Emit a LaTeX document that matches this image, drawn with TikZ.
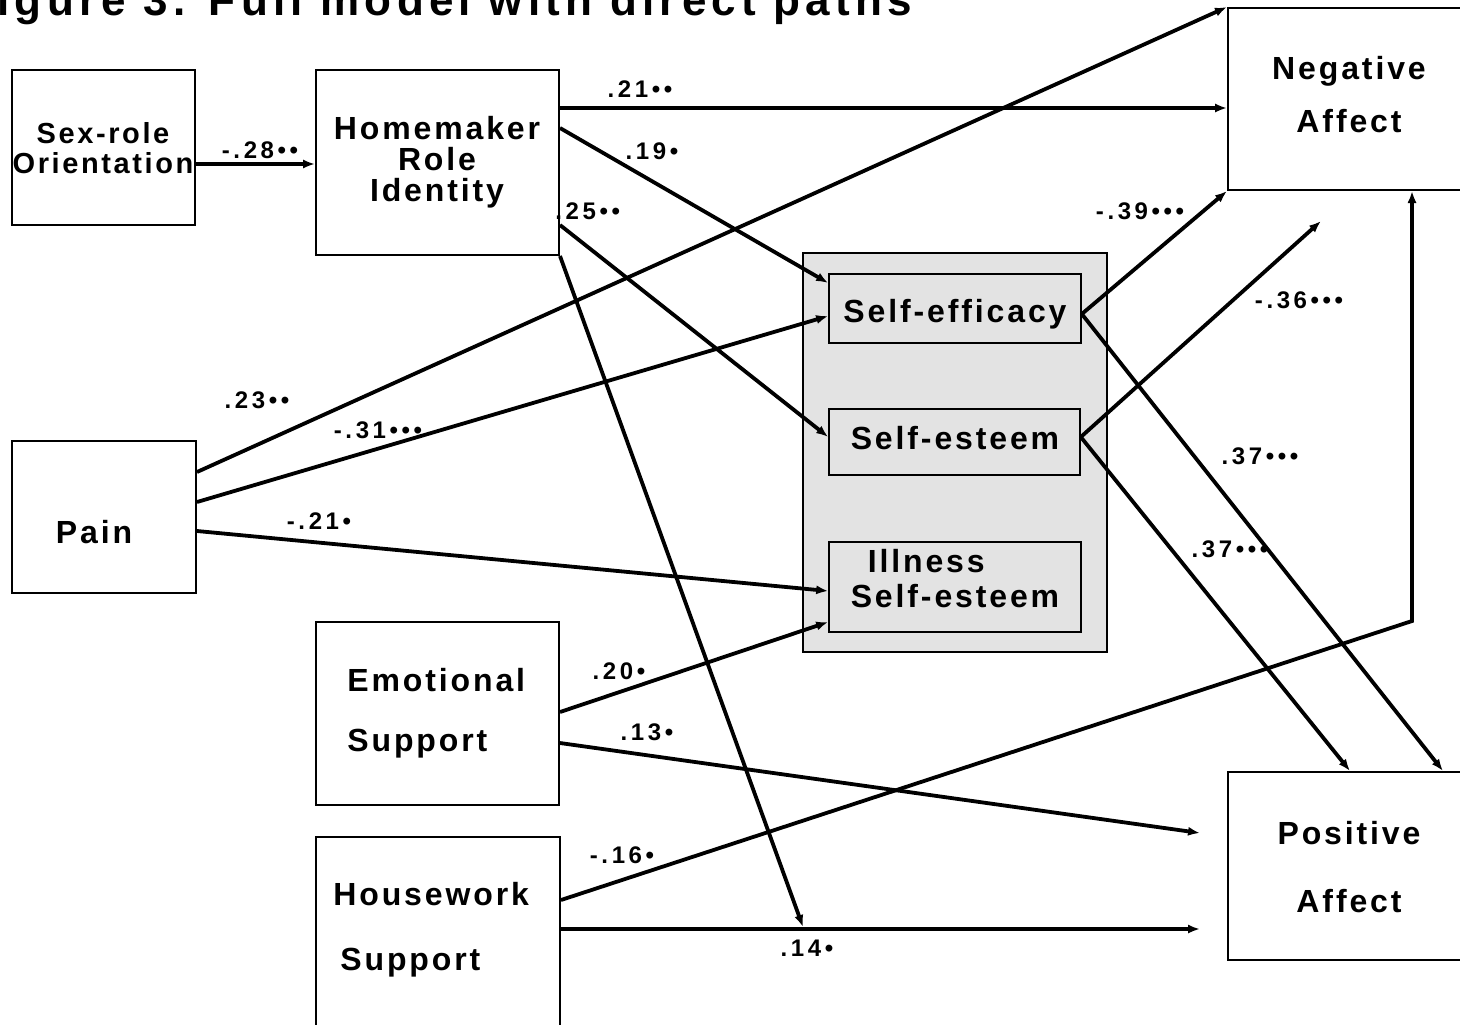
\documentclass[tikz,border=0pt]{standalone}
\usepackage{fontspec}
\setmainfont{Liberation Sans}
\newfontfamily\boxfam{Liberation Sans}[LetterSpace=9]
\newfontfamily\labfam{Liberation Sans}[LetterSpace=15]
\newfontfamily\titfam{Liberation Sans}[LetterSpace=12]
\usetikzlibrary{arrows.meta,fit,calc}
\newcommand\BoxTxt{\boxfam\bfseries\fontsize{16}{15.5}\selectfont}
\newcommand\LabTxt{\labfam\bfseries\fontsize{12}{13}\selectfont}
\begin{document}
\begin{tikzpicture}[x=0.5pt,y=-0.5pt,
  box/.style={draw, line width=1pt, inner sep=0pt},
  inbox/.style={draw, line width=0.8pt, inner sep=0pt, fill=black!11},
  grpbox/.style={draw, line width=0.8pt, inner sep=0pt, fill=black!11},
  txt/.style={font=\BoxTxt, inner sep=0pt, align=center},
  lab/.style={font=\LabTxt, inner sep=0pt},
  arr/.style={line width=1.9pt, -{Latex[length=6pt,width=4.6pt]}}]
\useasboundingbox (0,0) rectangle (1460,1024);
\clip (0,0) rectangle (1460,1024);
\fill[white] (0,0) rectangle (1460,1024);
% title (cut at top)
\node[font=\titfam\bfseries\fontsize{22}{24}\selectfont, anchor=base west, inner sep=0pt] (title) at (-3,15) {igure 3. Full model with direct paths};
% boxes
\node[box, fit={(12,70) (195,225)}] (sr) {};
\node[box, fit={(316,70) (559,255)}] (hm) {};
\node[box, fit={(1228,8) (1480,190)}] (na) {};
\node[box, fit={(1228,772) (1480,960)}] (pa) {};
\node[box, fit={(12,441) (196,593)}] (pain) {};
\node[box, fit={(316,622) (559,805)}] (es) {};
\node[box, fit={(316,837) (560,1040)}] (hw) {};
\node[grpbox, fit={(803,253) (1107,652)}] (grp) {};
\node[inbox, fit={(829,274) (1081,343)}] (se) {};
\node[inbox, fit={(829,409) (1080,475)}] (ses) {};
\node[inbox, fit={(829,542) (1081,632)}] (ils) {};
% box texts
\node[txt, font=\boxfam\bfseries\fontsize{14.5}{15}\selectfont] (srT) at (103,148) {Sex-role\\Orientation};
\node[txt] (hmT) at (437,162) {Homemaker\\Role\\Identity};
\node[txt, font=\BoxTxt\fontsize{16}{26.5}\selectfont] (naT) at (1349,95) {Negative\\Affect};
\node[txt, font=\BoxTxt\fontsize{16}{34}\selectfont] (paT) at (1349,867) {Positive\\Affect};
\node[txt] (painT) at (94,532) {Pain};
\node[txt, align=left, anchor=west, font=\BoxTxt\fontsize{16}{30}\selectfont] (esT) at (347,713) {Emotional\\Support};
\node[txt, align=left, anchor=west, font=\BoxTxt\fontsize{16}{32.5}\selectfont] (hwT) at (333,930) {Housework\\\hspace*{3.5pt}Support};
\node[txt] (seT) at (955,314) {Self-efficacy};
\node[txt] (sesT) at (955,438) {Self-esteem};
\node[txt, align=left, font=\BoxTxt\fontsize{16}{17.5}\selectfont] (ilsT) at (955,579) {\hspace*{8.5pt}Illness\\Self-esteem};
% free ends
\coordinate (pa1) at (1200,833);
\coordinate (pa2) at (1200,929);
\coordinate (hmEnd) at (803,927);
\coordinate (bend) at (1412,621);
\coordinate (ses36) at (1321,221);
% connectors
\draw[arr] (sr.east |- 0,164) -- (hm.west |- 0,164);
\draw[arr] (hm.east |- 0,108) -- (na.west |- 0,108);
\draw[arr] (hm.east |- 0,128) -- (se.west |- 0,283);
\draw[arr] (hm.east |- 0,225) -- (ses.west |- 0,437);
\draw[arr] (hm.south east) -- (hmEnd);
\draw[arr] (pain.east |- 0,472) -- (na.north west);
\draw[arr] (pain.east |- 0,502) -- (se.west |- 0,316);
\draw[arr] (pain.east |- 0,531) -- (ils.west |- 0,591);
\draw[arr] (es.east |- 0,712) -- (ils.west |- 0,622);
\draw[arr] (es.east |- 0,743) -- (pa1);
\draw[arr] (hw.east |- 0,929) -- (pa2);
\draw[arr] (hw.east |- 0,900) -- (bend) -- (na.south -| bend);
\draw[arr] (se.east |- 0,314) -- (na.south west);
\draw[arr] (ses.east |- 0,437) -- (ses36);
\draw[arr] (se.east |- 0,314) -- (pa.north -| 1443,0);
\draw[arr] (ses.east |- 0,437) -- (pa.north -| 1350,0);
% labels
\node[lab] (l28) at (260,150) {-.28••};
\node[lab] (l21) at (640,89) {.21••};
\node[lab] (l19) at (652,151) {.19•};
\node[lab, anchor=west] (l25) at (555,211) {.25••};
\node[lab] (l23) at (257,400) {.23••};
\node[lab] (l31) at (378,430) {-.31•••};
\node[lab] (l21b) at (319,521) {-.21•};
\node[lab] (l20) at (619,671) {.20•};
\node[lab] (l13) at (647,732) {.13•};
\node[lab] (l16) at (622,855) {-.16•};
\node[lab] (l14) at (807,948) {.14•};
\node[lab] (l39) at (1140,211) {-.39•••};
\node[lab] (l36) at (1299,300) {-.36•••};
\node[lab] (l37a) at (1260,456) {.37•••};
\node[lab] (l37b) at (1230,549) {.37•••};
\end{tikzpicture}
\end{document}
